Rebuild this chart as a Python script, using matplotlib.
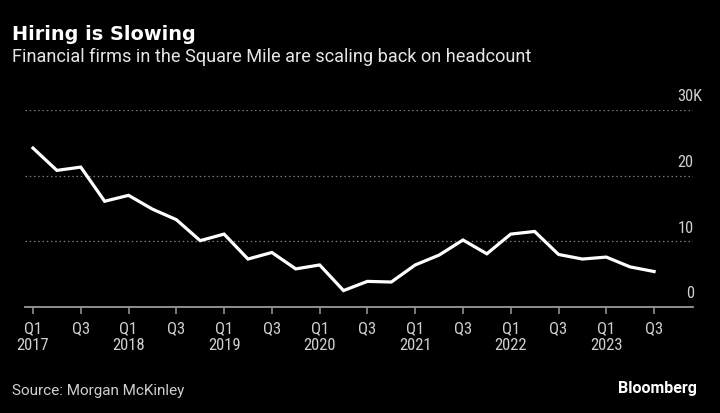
import matplotlib.pyplot as plt

# quarterly hiring, thousands (Q1 2017 .. Q3 2023)
quarters = ['Q1', 'Q2', 'Q3', 'Q4'] * 6 + ['Q1', 'Q2', 'Q3']
years = [str(y) for y in range(2017, 2024) for _ in range(4)][:27]
hiring = [24.2, 20.8, 21.3, 16.1, 17.0, 14.9, 13.3, 10.1, 11.1, 7.3,
          8.3, 5.8, 6.4, 2.5, 3.9, 3.8, 6.4, 7.9, 10.2, 8.1,
          11.1, 11.5, 8.0, 7.3, 7.6, 6.1, 5.4]
y_ticks = [0, 10, 20, 30]
y_labels = ['0', '10', '20', '30K']

plt.rcParams['font.family'] = ['Roboto Condensed', 'DejaVu Sans']

fig = plt.figure(figsize=(7.2, 4.13), dpi=100, facecolor='black')
ax = fig.add_axes([0.0347, 0.2567, 0.9278, 0.477], facecolor='black')

x = list(range(len(hiring)))
ax.plot(x, hiring, color='white', lw=2.3, solid_joinstyle='miter', clip_on=False, zorder=3)

ax.set_xlim(-0.335, 27.63)
ax.set_ylim(0, 30)

for v in y_ticks[1:]:
    ax.axhline(v, color='#7a7a7a', lw=0.9, ls=(0, (1.2, 2.2)), zorder=1)
for v, lab in zip(y_ticks, y_labels):
    # the "K" hangs past the right edge of the numbers
    dx = 7 if lab.endswith('K') else 0.5
    ax.annotate(lab, xy=(1, v), xycoords=('axes fraction', 'data'),
                xytext=(dx, 9.5), textcoords='offset points', ha='right', va='center',
                color='#cfcfcf', fontsize=11.8)

for s in ['top', 'right', 'left']:
    ax.spines[s].set_visible(False)
ax.spines['bottom'].set_color('#9a9a9a')
ax.spines['bottom'].set_linewidth(1.3)
ax.set_yticks([])

tick_pos = x[::2]
tick_lab = []
for i in tick_pos:
    tick_lab.append(quarters[i] + '\n' + years[i] if quarters[i] == 'Q1' else quarters[i])
ax.set_xticks(tick_pos)
ax.set_xticklabels(tick_lab, color='#cfcfcf', fontsize=12, linespacing=1.2, va='top')
ax.tick_params(axis='x', length=5, width=1.1, color='#9a9a9a', pad=5)

fig.text(0.017, 0.903, 'Hiring is Slowing', color='white', fontsize=13.9,
         fontweight='bold', va='baseline', family='DejaVu Sans')
fig.text(0.017, 0.850, 'Financial firms in the Square Mile are scaling back on headcount',
         color='#e6e6e6', fontsize=13.1, va='baseline', family='Roboto')
fig.text(0.017, 0.044, 'Source: Morgan McKinley', color='#cfcfcf', fontsize=11,
         va='baseline', family='Roboto')
fig.text(0.968, 0.048, 'Bloomberg', color='white', fontsize=11.5, fontweight='bold',
         ha='right', va='baseline', family='Roboto')

fig.savefig('out.png', dpi=100, facecolor='black')
